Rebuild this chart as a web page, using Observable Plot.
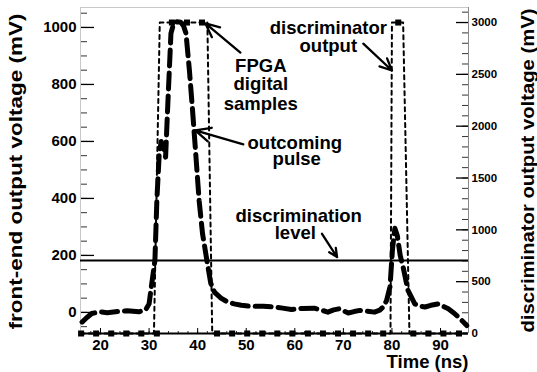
<!DOCTYPE html>
<html><head><meta charset="utf-8">
<script src="https://cdn.jsdelivr.net/npm/d3@7"></script>
<script src="https://cdn.jsdelivr.net/npm/@observablehq/plot@0.6"></script>
<style>body{margin:0;background:#fff} svg{display:block}</style>
</head><body><div id="chart"></div>
<script>
// outcoming pulse (front-end output, mV) vs time (ns)
const pulseTime = [16.2,17.2,18.2,19.7,21.4,23.5,25.5,27.9,29.3,30.0,30.7,31.2,31.6,32.1,32.5,33.0,33.4,33.8,34.5,35.0,35.7,36.5,37.1,37.6,38.3,38.9,39.6,40.3,41.0,42.0,42.7,43.5,44.8,46.0,47.5,49.0,51.0,53.5,55.8,57.5,59.3,61.5,64.0,65.5,66.8,68.0,69.2,70.0,71.0,72.2,73.4,75.0,76.4,77.5,78.2,78.9,79.6,80.1,80.6,81.1,81.7,82.3,83.3,84.7,85.8,86.8,88.0,89.5,90.5,91.6,92.6,93.7,94.6,95.4];
const pulseMv   = [-34,-18,-4,2,-1,3,6,2,9,30,120,182,393,560,600,575,545,709,979,1010,1020,1018,1005,979,850,720,558,393,277,172,102,70,50,38,30,25,21,22,19,15,10,14,15,8,1,9,13,6,-2,3,7,4,1,8,19,42,90,220,295,270,200,159,77,30,22,19,25,30,22,13,0,-16,-32,-46];
// discriminator output (mV, right axis)
const discTime = [15.9,31.0,32.2,42.0,43.0,79.7,80.0,82.3,83.6,95.8];
const discMv   = [0,0,3000,3000,0,0,3000,3000,0,0];
// FPGA digital samples (mV, right axis)
const sampleTime = [16.0,19.1,22.2,25.3,28.4,31.6,34.7,37.8,40.9,44.0,47.1,50.2,53.3,56.4,59.5,62.7,65.8,68.9,72.0,75.1,78.2,81.3,84.4,87.5,90.6,93.8];
const sampleMv   = [0,0,0,0,0,0,3000,3000,3000,0,0,0,0,0,0,0,0,0,0,0,0,3000,0,0,0,0];
const discriminationLevel = 182;
const leftTicks = [0,200,400,600,800,1000];
const leftMinor = [-50,0,50,100,150,200,250,300,350,400,450,500,550,600,650,700,750,800,850,900,950,1000,1050];
const rightTicks = [0,500,1000,1500,2000,2500,3000];
const rightMinor = [0,100,200,300,400,500,600,700,800,900,1000,1100,1200,1300,1400,1500,1600,1700,1800,1900,2000,2100,2200,2300,2400,2500,2600,2700,2800,2900,3000,3100];
const xTicks = [20,30,40,50,60,70,80,90];
const xMinor = [16,18,20,22,24,26,28,30,32,34,36,38,40,42,44,46,48,50,52,54,56,58,60,62,64,66,68,70,72,74,76,78,80,82,84,86,88,90,92,94];
const leftTitle = "front-end output voltage (mV)";
const rightTitle = "discriminator output voltage (mV)";

const X0 = 15.88, X1 = 95.76;
const Y0 = -74, Y1 = 1070, R1 = 3145;
const toLeft = r => Y0 + r * (Y1 - Y0) / R1;
const fromLeft = v => (v - Y0) * R1 / (Y1 - Y0);

const pulse = pulseTime.map((t, i) => ({t, v: pulseMv[i]}));
const disc = discTime.map((t, i) => ({t, v: toLeft(discMv[i])}));
const samples = sampleTime.map((t, i) => ({t, v: toLeft(sampleMv[i])}));

const F = "'Liberation Sans', Arial, Helvetica, sans-serif";
const ann = {fontSize: 18.5, fontWeight: "bold", fill: "black", lineAnchor: "bottom", textAnchor: "middle"};
const arrowOpts = {x1: "x1", y1: "y1", x2: "x2", y2: "y2", stroke: "black", strokeWidth: 2.3, headLength: 13, headAngle: 50};

const chart = Plot.plot({
  width: 537, height: 372,
  marginLeft: 80, marginRight: 69, marginTop: 7, marginBottom: 39,
  x: {domain: [X0, X1], axis: null},
  y: {domain: [Y0, Y1], axis: null},
  style: {fontFamily: F, fontWeight: "bold", background: "white", color: "black", overflow: "visible"},
  marks: [
    // frame
    Plot.ruleX([X0], {stroke: "#c8c8c8", strokeWidth: 1}),
    Plot.ruleY([Y1], {stroke: "#c8c8c8", strokeWidth: 1}),
    Plot.ruleX([X1], {stroke: "#888", strokeWidth: 1}),
    // left axis (ticks inside)
    Plot.axisY(leftMinor, {anchor: "right", frameAnchor: "left", tickSize: 6, stroke: "#333", fill: "none", label: null}),
    Plot.axisY(leftTicks, {anchor: "right", frameAnchor: "left", tickSize: 13, stroke: "black", strokeWidth: 1.3, fill: "none", label: null}),
    Plot.axisY(leftTicks, {anchor: "left", tickSize: 0, tickPadding: 4, fontSize: 15, fontWeight: "bold", fill: "black", label: null, tickFormat: d => String(d)}),
    // right axis (ticks inside)
    Plot.axisY(rightMinor.map(toLeft), {anchor: "left", frameAnchor: "right", tickSize: 6, stroke: "#333", fill: "none", label: null}),
    Plot.axisY(rightTicks.map(toLeft), {anchor: "left", frameAnchor: "right", tickSize: 12, stroke: "black", strokeWidth: 1.3, fill: "none", label: null}),
    Plot.axisY(rightTicks.map(toLeft), {anchor: "right", tickSize: 0, tickPadding: 3, fontSize: 11.5, fontWeight: "bold", fill: "black", label: null, tickFormat: d => String(Math.round(fromLeft(d)))}),
    // x axis (ticks pointing up)
    Plot.axisX(xMinor, {anchor: "top", frameAnchor: "bottom", tickSize: 3, stroke: "#333", fill: "none", label: null}),
    Plot.axisX(xTicks, {anchor: "top", frameAnchor: "bottom", tickSize: 6, stroke: "black", fill: "none", label: null}),
    Plot.axisX(xTicks, {anchor: "bottom", tickSize: 0, tickPadding: 6, fontSize: 15, fontWeight: "bold", fill: "black", label: null, tickFormat: d => String(d)}),
    // discrimination level
    Plot.ruleY([discriminationLevel], {stroke: "black", strokeWidth: 2}),
    // discriminator output (dotted)
    Plot.line(disc, {x: "t", y: "v", stroke: "black", strokeWidth: 2, strokeDasharray: "4,4"}),
    // outcoming pulse (thick dashed)
    Plot.line(pulse, {x: "t", y: "v", stroke: "black", strokeWidth: 5, strokeDasharray: "16,7"}),
    // FPGA samples
    Plot.dot(samples, {x: "t", y: "v", symbol: "square", r: 3.4, fill: "black", stroke: "none"}),
    // bottom axis line
    Plot.ruleY([Y0], {stroke: "black", strokeWidth: 2}),
    // axis titles
    Plot.text(["Time (ns)"], {frameAnchor: "bottom-right", dy: 34, textAnchor: "end", lineAnchor: "bottom", fontSize: 18.5, fontWeight: "bold"}),
    Plot.text([leftTitle], {frameAnchor: "top-left", dx: -64.5, dy: 6, rotate: -90, textAnchor: "end", lineAnchor: "middle", fontSize: 18.5, fontWeight: "bold"}),
    Plot.text([rightTitle], {frameAnchor: "top-right", dx: 59.5, dy: 1, rotate: -90, textAnchor: "end", lineAnchor: "middle", fontSize: 18.5, fontWeight: "bold"}),
    // annotations
    Plot.text(["FPGA"], {x: 53, y: 843, ...ann}),
    Plot.text(["digital"], {x: 53, y: 779, ...ann}),
    Plot.text(["samples"], {x: 53, y: 709, ...ann}),
    Plot.text(["discriminator"], {x: 66.9, y: 978, ...ann}),
    Plot.text(["output"], {x: 66.9, y: 913, ...ann}),
    Plot.text(["outcoming"], {x: 60.0, y: 574, ...ann}),
    Plot.text(["pulse"], {x: 60.4, y: 516, ...ann}),
    Plot.text(["discrimination"], {x: 60.8, y: 317, ...ann}),
    Plot.text(["level"], {x: 60.1, y: 259, ...ann}),
    Plot.arrow([{x1: 48.8, y1: 912, x2: 41.6, y2: 1014}], arrowOpts),
    Plot.arrow([{x1: 74.1, y1: 943, x2: 80.0, y2: 849}], arrowOpts),
    Plot.arrow([{x1: 49.4, y1: 590, x2: 39.5, y2: 639}], arrowOpts),
    Plot.arrow([{x1: 65.6, y1: 276, x2: 68.7, y2: 194}], arrowOpts)
  ]
});
// stretch the rotated axis titles to the length they have in the reference
d3.select(chart).selectAll("text").each(function() {
  if (this.textContent === leftTitle) d3.select(this).attr("textLength", 316).attr("lengthAdjust", "spacingAndGlyphs");
  if (this.textContent === rightTitle) d3.select(this).attr("textLength", 324).attr("lengthAdjust", "spacingAndGlyphs");
});
document.getElementById("chart").appendChild(chart);
</script>
</body></html>
